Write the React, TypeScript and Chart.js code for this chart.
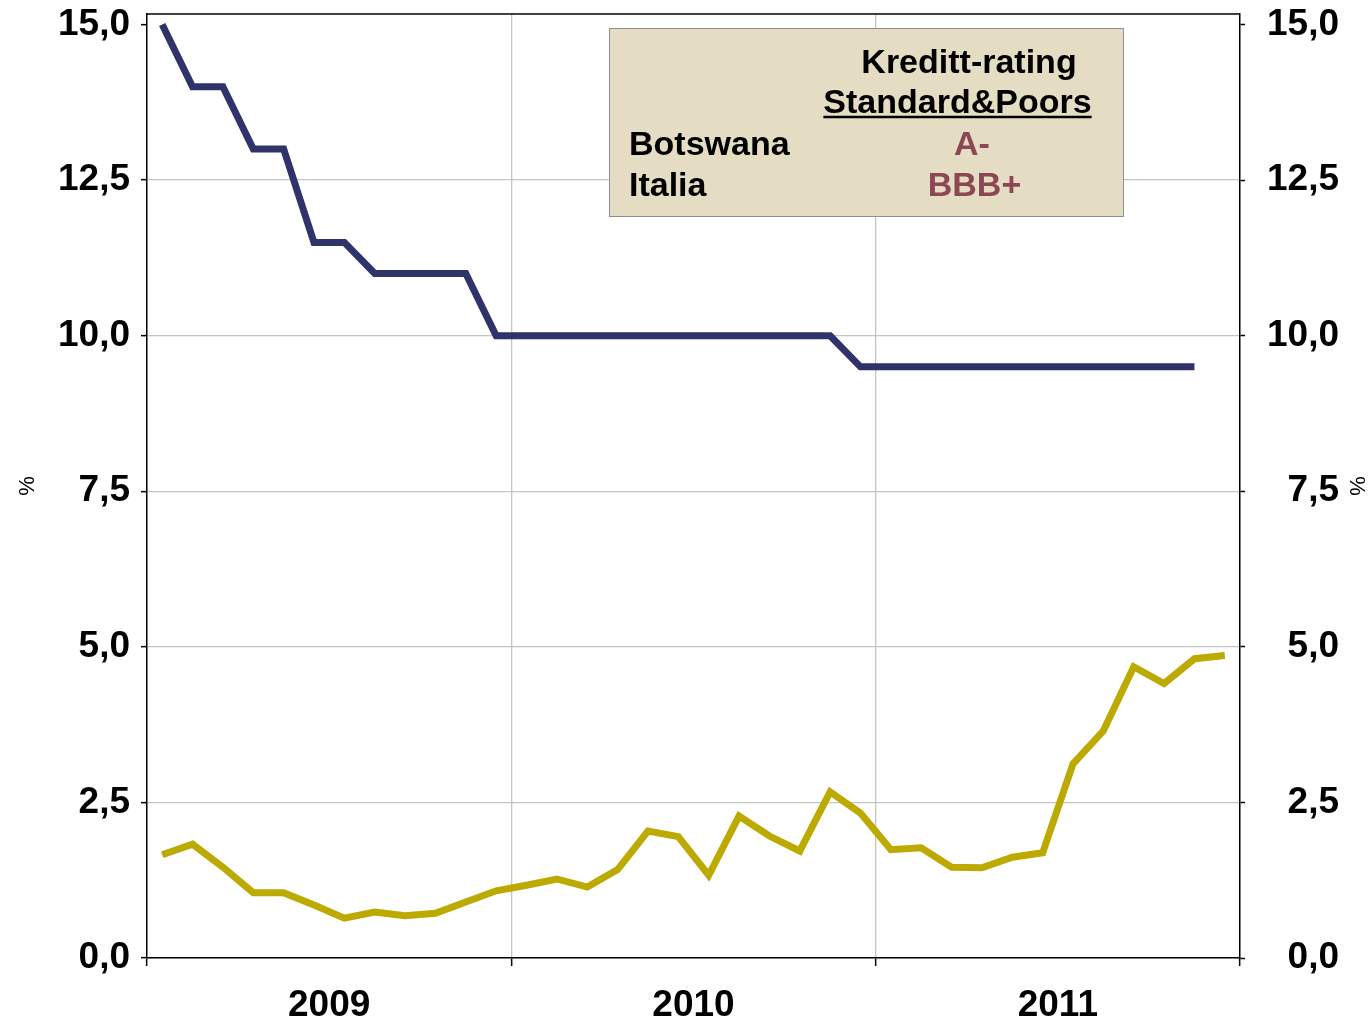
import React, { useEffect, useRef } from 'react';
import { Chart, registerables } from 'chart.js';

Chart.register(...registerables);

// ---- Data ----
const months: string[] = [
  'jan 09', 'feb 09', 'mar 09', 'apr 09', 'mai 09', 'jun 09', 'jul 09', 'aug 09', 'sep 09', 'okt 09', 'nov 09', 'des 09',
  'jan 10', 'feb 10', 'mar 10', 'apr 10', 'mai 10', 'jun 10', 'jul 10', 'aug 10', 'sep 10', 'okt 10', 'nov 10', 'des 10',
  'jan 11', 'feb 11', 'mar 11', 'apr 11', 'mai 11', 'jun 11', 'jul 11', 'aug 11', 'sep 11', 'okt 11', 'nov 11', 'des 11',
];

const botswana: (number | null)[] = [
  15.0, 14.0, 14.0, 13.0, 13.0, 11.5, 11.5, 11.0, 11.0, 11.0, 11.0, 10.0,
  10.0, 10.0, 10.0, 10.0, 10.0, 10.0, 10.0, 10.0, 10.0, 10.0, 10.0, 9.5,
  9.5, 9.5, 9.5, 9.5, 9.5, 9.5, 9.5, 9.5, 9.5, 9.5, 9.5, null,
];

const italia: number[] = [
  1.66, 1.83, 1.46, 1.05, 1.05, 0.85, 0.64, 0.74, 0.68, 0.72, 0.90, 1.08,
  1.17, 1.27, 1.14, 1.42, 2.04, 1.95, 1.33, 2.28, 1.96, 1.72, 2.67, 2.33,
  1.74, 1.77, 1.46, 1.45, 1.62, 1.69, 3.12, 3.65, 4.68, 4.41, 4.81, 4.86,
];

const yearLabels: string[] = ['2009', '2010', '2011'];
const monthsPerYear = 12;
const yMin = 0;
const yMax = 15.17;
const yStep = 2.5;
const yTopTick = 15;

const boxTitle: string[] = ['Kreditt-rating', 'Standard&Poors'];
const boxCountries: string[] = ['Botswana', 'Italia'];
const boxRatings: string[] = ['A-', 'BBB+'];

// ---- Styles ----
const FONT = "'Liberation Sans', Arial, Helvetica, sans-serif";
const NAVY = '#30326a';
const OLIVE = '#bdaa00';
const GRID = '#c4c4c4';
const MAROON = '#8c4654';

const fmt = (v: number) => v.toFixed(1).replace('.', ',');

const boxPlugin = {
  id: 'ratingBox',
  afterDraw(chart: any) {
    const { ctx, chartArea } = chart;
    ctx.save();
    // top border of plot area
    ctx.strokeStyle = '#000';
    ctx.lineWidth = 1.5;
    ctx.beginPath();
    ctx.moveTo(chartArea.left, chartArea.top);
    ctx.lineTo(chartArea.right, chartArea.top);
    ctx.stroke();

    // rating box
    const bx = 609.5, by = 28.5, bw = 514, bh = 188;
    ctx.fillStyle = '#e5dcc4';
    ctx.fillRect(bx, by, bw, bh);
    ctx.strokeStyle = '#8f8f8f';
    ctx.lineWidth = 1;
    ctx.strokeRect(bx, by, bw, bh);

    ctx.font = `bold 34px ${FONT}`;
    ctx.textBaseline = 'alphabetic';
    ctx.fillStyle = '#000';
    ctx.textAlign = 'center';
    ctx.fillText(boxTitle[0], 969, 73);
    ctx.fillText(boxTitle[1], 957.5, 113);
    const w = ctx.measureText(boxTitle[1]).width;
    ctx.strokeStyle = '#000';
    ctx.lineWidth = 2.5;
    ctx.beginPath();
    ctx.moveTo(957.5 - w / 2, 117);
    ctx.lineTo(957.5 + w / 2, 117);
    ctx.stroke();

    ctx.textAlign = 'left';
    ctx.fillText(boxCountries[0], 629, 155);
    ctx.fillText(boxCountries[1], 629, 196);

    ctx.textAlign = 'center';
    ctx.fillStyle = MAROON;
    ctx.fillText(boxRatings[0], 972, 155);
    ctx.fillText(boxRatings[1], 974.5, 196);
    ctx.restore();
  },
};

export default function App() {
  const ref = useRef<HTMLCanvasElement | null>(null);

  useEffect(() => {
    if (!ref.current) return;
    const total = months.length;
    const yearTicks: number[] = [];
    for (let v = 0; v <= total; v += monthsPerYear / 2) yearTicks.push(v);

    const yTick = (value: number) => fmt(value);
    const yGridColor = (c: any) => (c.tick && c.tick.value >= yTopTick ? 'rgba(0,0,0,0)' : GRID);

    const chart = new Chart(ref.current, {
      type: 'line',
      data: {
        labels: months,
        datasets: [
          {
            label: 'Botswana',
            data: botswana,
            borderColor: NAVY,
            backgroundColor: NAVY,
            borderWidth: 7,
            pointRadius: 0,
            tension: 0,
            spanGaps: false,
            xAxisID: 'x',
            yAxisID: 'y',
          },
          {
            label: 'Italia',
            data: italia,
            borderColor: OLIVE,
            backgroundColor: OLIVE,
            borderWidth: 7,
            pointRadius: 0,
            tension: 0,
            xAxisID: 'x',
            yAxisID: 'y',
          },
        ],
      },
      options: {
        animation: false,
        responsive: false,
        devicePixelRatio: 1,
        layout: { padding: { top: 14, left: 0, right: 31, bottom: 0 } },
        plugins: {
          legend: { display: false },
          tooltip: { enabled: false },
        },
        scales: {
          x: {
            type: 'category',
            offset: true,
            display: false,
          },
          x2: {
            type: 'linear',
            position: 'bottom',
            min: 0,
            max: total,
            afterBuildTicks: (s: any) => {
              s.ticks = yearTicks.map((v) => ({ value: v }));
            },
            afterFit: (s: any) => {
              s.height = 62;
              s.paddingLeft = 0;
              s.paddingRight = 0;
            },
            grid: {
              color: (c: any) => {
                const v = c.tick ? c.tick.value : 0;
                return v > 0 && v < total && v % monthsPerYear === 0 ? GRID : 'rgba(0,0,0,0)';
              },
              lineWidth: 1.3,
              tickColor: (c: any) => {
                const v = c.tick ? c.tick.value : 0;
                return v % monthsPerYear === 0 ? '#000' : 'rgba(0,0,0,0)';
              },
              tickWidth: 1.5,
              tickLength: 8,
              drawTicks: true,
            },
            border: { display: true, color: '#000', width: 1.5 },
            ticks: {
              autoSkip: false,
              maxRotation: 0,
              padding: 18,
              color: '#000',
              font: { family: FONT, size: 37, weight: 'bold' },
              callback: (value: any) => {
                const i = (Number(value) - monthsPerYear / 2) / monthsPerYear;
                return Number.isInteger(i) && yearLabels[i] ? yearLabels[i] : '';
              },
            },
          },
          y: {
            type: 'linear',
            position: 'left',
            min: yMin,
            max: yMax,
            afterFit: (s: any) => {
              s.width = 147;
              s.paddingTop = 0;
              s.paddingBottom = 0;
            },
            grid: {
              color: yGridColor,
              lineWidth: 1.3,
              tickColor: '#000',
              tickWidth: 1.5,
              tickLength: 6,
            },
            border: { display: true, color: '#000', width: 1.5 },
            ticks: {
              stepSize: yStep,
              includeBounds: false,
              padding: 11,
              color: '#000',
              font: { family: FONT, size: 37, weight: 'bold' },
              callback: yTick,
            },
            title: {
              display: true,
              text: '%',
              color: '#000',
              font: { family: FONT, size: 22 },
              padding: { top: 15, bottom: 0 },
            },
          },
          y2: {
            type: 'linear',
            position: 'right',
            min: yMin,
            max: yMax,
            afterFit: (s: any) => {
              s.width = 99;
              s.paddingTop = 0;
              s.paddingBottom = 0;
            },
            grid: {
              drawOnChartArea: false,
              tickColor: '#000',
              tickWidth: 1.5,
              tickLength: 5,
            },
            border: { display: true, color: '#000', width: 1.5 },
            ticks: {
              stepSize: yStep,
              includeBounds: false,
              padding: 12,
              crossAlign: 'far',
              color: '#000',
              font: { family: FONT, size: 37, weight: 'bold' },
              callback: yTick,
            },
            title: {
              display: true,
              text: '%',
              color: '#000',
              font: { family: FONT, size: 22 },
              padding: { top: -30, bottom: 0 },
            },
          },
        },
      } as any,
      plugins: [boxPlugin],
    });
    return () => chart.destroy();
  }, []);

  return (
    <div style={{ position: 'absolute', left: 0, top: 0, width: 1370, height: 1020, background: '#fff' }}>
      <canvas ref={ref} width={1370} height={1020} style={{ display: 'block' }} />
    </div>
  );
}
